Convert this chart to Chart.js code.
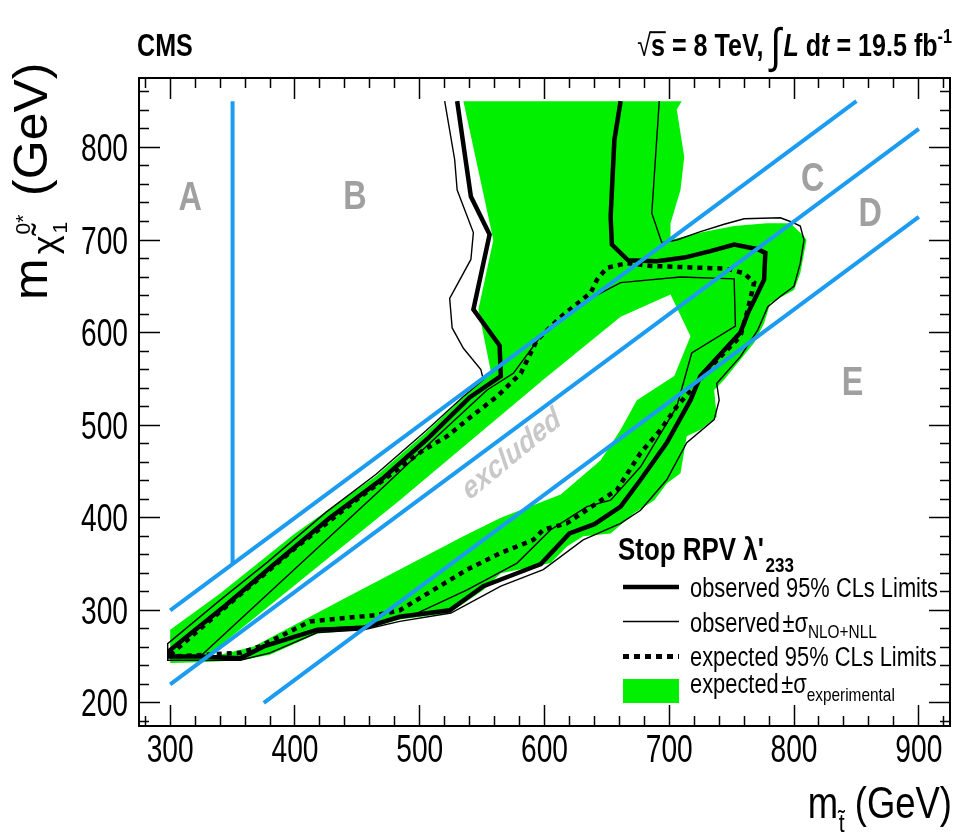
<!DOCTYPE html>
<html>
<head>
<meta charset="utf-8">
<script src="https://cdn.jsdelivr.net/npm/chart.js@4.4.1/dist/chart.umd.min.js"></script>
<style>
  html, body { margin: 0; padding: 0; background: #fff; }
  #wrap { width: 956px; height: 836px; }
</style>
</head>
<body>
<div id="wrap"><canvas id="chart" width="956" height="836"></canvas></div>
<script>
// axis ranges and tick labels
const xRange = [275, 925];
const yRange = [175, 875];
const xMajor = [300, 400, 500, 600, 700, 800, 900];
const yMajor = [200, 300, 400, 500, 600, 700, 800];
const minorStep = 20;

// observed 95% CLs limit (thick line), points as [m_stop, m_neutralino]
const observed = [[530,850],[541,747],[556,706],[543,625],[564,586],[565,553],[540,530],[506,485],[470,442],[428,400],[380,346],[345,306],[300,257],[300,250],[324,250],[356,248],[375,261],[418,279],[455,281],[484,293],[524,300],[551,326],[578,340],[597,350],[620,383],[640,393],[661,412],[677,441],[698,481],[717,527],[725,553],[757,600],[763,621],[771,643],[776,657],[777,686],[771,690],[752,695],[733,688],[712,681],[690,677],[667,678],[654,695],[653,725],[656,808],[661,850]];

// observed +1 sigma theory (outer thin line)
const observedUp = [[520,850],[528,787],[530,754],[543,708],[541,679],[524,637],[526,605],[535,583],[549,560],[551,549],[535,531],[505,494],[465,447],[425,406],[378,352],[340,311],[298,264],[298,246],[324,246],[356,246],[380,254],[418,276],[455,279],[484,288],[525,297],[565,326],[599,344],[631,376],[661,394],[677,408],[698,441],[714,481],[736,506],[740,527],[738,545],[757,574],[771,603],[779,628],[789,639],[800,650],[805,675],[808,700],[805,715],[797,720],[789,724],[760,723],[744,717],[725,709],[706,700],[694,697],[686,729],[689,790],[692,850]];

// observed -1 sigma theory (inner thin line)
const observedDown = [[324,250],[466,427],[514,488],[554,538],[575,556],[597,596],[640,639],[661,654],[709,660],[752,658],[753,607],[718,578],[706,520],[690,484],[677,455],[653,419],[634,412],[605,387],[578,351],[538,322],[498,297],[455,283],[418,280],[375,262],[356,250],[324,250]];

// expected 95% CLs limit (dotted)
const expected = [[300,252],[350,310],[400,367],[450,420],[480,450],[503,473],[522,488],[541,509],[562,531],[581,556],[594,592],[613,617],[637,643],[642,657],[650,670],[666,675],[685,672],[746,669],[760,664],[768,654],[763,625],[757,596],[736,567],[722,545],[706,520],[693,495],[677,470],[658,430],[640,414],[618,394],[599,387],[591,376],[565,362],[538,344],[511,322],[484,300],[466,295],[412,288],[372,261],[356,254],[300,250]];

// expected +-1 sigma experimental band: outer edge and the inner hole
const bandOuter = [[535,850],[710,850],[706,841],[712,790],[709,754],[701,718],[701,700],[725,708],[752,715],[778,718],[797,718],[808,704],[810,700],[805,664],[800,646],[781,632],[776,610],[768,589],[744,549],[736,538],[738,509],[725,495],[714,488],[709,448],[698,437],[688,419],[672,405],[653,383],[631,380],[618,369],[605,351],[591,347],[565,340],[551,322],[524,297],[484,290],[455,279],[418,275],[380,252],[357,246],[324,244],[300,243],[300,279],[340,318],[400,383],[465,445],[505,492],[535,530],[557,558],[547,625],[559,700],[535,850]];
const bandHole = [[330,251],[484,419],[599,549],[661,617],[701,641],[717,596],[704,553],[674,527],[661,495],[645,462],[613,425],[565,400],[535,380],[484,344],[440,313],[367,261],[340,252],[330,251]];

// kinematic region boundaries
const boundaries = [
  [[350,350],[350,850]],
  [[300,300],[850,850]],
  [[300,220],[900,820]],
  [[375,200],[900,725]]
];
const regionNames = ['A', 'B', 'C', 'D', 'E'];
const regionAt = [[316,747],[448,749],[815,768],[861,730],[847,548]];

const GREEN = '#00f000';
const BLUE = '#1c9cf0';
const FONT = '"Liberation Sans", Arial, Helvetica, sans-serif';
const SX = 0.81; // the figure is squeezed horizontally

function pts(arr) { return arr.map(p => ({x: p[0], y: p[1]})); }
function tickList(r) {
  const out = [];
  for (let v = Math.ceil(r[0] / minorStep) * minorStep; v <= r[1]; v += minorStep) out.push({value: v});
  return out;
}
function dashFor(startsInside) {
  return c => {
    if (!c.tick || c.tick.value % 100 === 0) return [];
    return startsInside ? [0, 11, 11, 100] : [11, 100];
  };
}

const line = (data, extra) => Object.assign({
  data: pts(data), showLine: true, fill: false, pointRadius: 0, tension: 0,
  borderColor: '#000', borderWidth: 1.5
}, extra);

const datasets = [
  line(bandOuter, {fill: 'shape', backgroundColor: GREEN, borderColor: 'transparent', borderWidth: 0, order: 10}),
  line(bandHole, {fill: 'shape', backgroundColor: '#fff', borderColor: 'transparent', borderWidth: 0, order: 9}),
  line(observedUp, {borderWidth: 1.4, order: 4}),
  line(observedDown, {borderWidth: 1.4, order: 4}),
  line(expected, {borderWidth: 4.5, borderDash: [5, 5], order: 3}),
  line(observed, {borderWidth: 4.5, order: 2})
];
boundaries.forEach(b => datasets.push(line(b, {borderColor: BLUE, borderWidth: 4, order: 1})));

function frameAxis(pos, range, size) {
  const horiz = pos === 'top' || pos === 'bottom';
  return {
    type: 'linear', position: pos, min: range[0], max: range[1],
    afterBuildTicks: s => { s.ticks = tickList(range); },
    afterFit: s => {
      if (horiz) s.height = size; else s.width = size;
      s.paddingLeft = s.paddingRight = s.paddingTop = s.paddingBottom = 0;
    },
    border: {display: true, color: '#000', width: 2},
    grid: {
      drawOnChartArea: false, drawTicks: true, tickLength: -21,
      tickColor: '#000', tickWidth: 1.5,
      tickBorderDash: dashFor(pos === 'left' || pos === 'top')
    },
    ticks: {display: false}
  };
}

function runFont(r) {
  return (r.i ? 'italic ' : '') + (r.b ? 'bold ' : '') + (r.s || 27) + 'px ' + FONT;
}
// draws runs of text (sub/superscripts via dy) squeezed horizontally
function drawRich(ctx, x, y, runs, o) {
  o = o || {};
  ctx.save();
  ctx.translate(x, y);
  ctx.scale(o.sx || SX, o.sy || 1);
  if (o.angle) ctx.rotate(o.angle);
  if (o.local) ctx.scale(o.local[0], o.local[1]);
  ctx.fillStyle = o.color || '#000';
  ctx.textBaseline = 'alphabetic';
  ctx.textAlign = 'left';
  let w = 0;
  runs.forEach(r => { ctx.font = runFont(r); w += (r.dx || 0) + (r.keep ? 0 : ctx.measureText(r.t).width); });
  let cx = o.align === 'right' ? -w : o.align === 'center' ? -w / 2 : 0;
  runs.forEach(r => {
    cx += r.dx || 0;
    ctx.font = runFont(r);
    const tw = ctx.measureText(r.t).width;
    ctx.fillText(r.t, cx, r.dy || 0);
    if (r.ol) ctx.fillRect(cx - 1, (r.dy || 0) - r.s * 0.8, tw + 2, 2);
    if (!r.keep) cx += tw;
  });
  ctx.restore();
}

const textPlugin = {
  id: 'texts',
  afterDraw(chart) {
    const ctx = chart.ctx;
    const sx = chart.scales.x, sy = chart.scales.y;
    const px = v => sx.getPixelForValue(v), py = v => sy.getPixelForValue(v);

    // tick labels at the scale positions
    xMajor.forEach(v => drawRich(ctx, px(v), 762, [{t: String(v), s: 38}], {align: 'center', sx: 0.74}));
    yMajor.forEach(v => drawRich(ctx, 128, py(v) + 13.5, [{t: String(v), s: 38}], {align: 'right', sx: 0.74}));

    // header
    drawRich(ctx, 137, 56, [{t: 'CMS', s: 31, b: true}]);
    drawRich(ctx, 952, 56, [
      {t: '√', s: 31}, {t: 's', s: 31, b: true, ol: true}, {t: ' = 8 TeV, ', s: 31, b: true},
      {t: '∫', s: 48, dy: 6}, {t: 'L', s: 31, b: true, i: true, dx: 3}, {t: ' d', s: 31, b: true},
      {t: 't', s: 31, b: true, i: true}, {t: ' = 19.5 fb', s: 31, b: true}, {t: '-1', s: 20, b: true, dy: -13}
    ], {align: 'right'});

    // axis titles
    drawRich(ctx, 952, 818, [
      {t: 'm', s: 45}, {t: 't̃', s: 26, dy: 14, dx: 1}, {t: ' (GeV)', s: 45}
    ], {align: 'right'});
    drawRich(ctx, 47, 300, [
      {t: 'm', s: 50}, {t: 'χ̃', s: 36, dy: 10, dx: 4}, {t: '0*', s: 21, dy: -18, dx: 1, keep: true}, {t: '1', s: 21, dy: 21, dx: 1},
      {t: ' (GeV)', s: 50, dx: 12}
    ], {sx: 0.95, angle: -Math.PI / 2});

    // region letters
    regionNames.forEach((n, i) => {
      drawRich(ctx, px(regionAt[i][0]), py(regionAt[i][1]) + 14, [{t: n, s: 40, b: true}], {align: 'center', color: '#a0a0a0'});
    });

    // excluded label
    ctx.save();
    ctx.translate(px(574), py(468));
    ctx.scale(SX, 1);
    ctx.rotate(-0.59);
    ctx.fillStyle = '#c8c8c8';
    ctx.font = 'italic bold 32px ' + FONT;
    ctx.textAlign = 'center';
    ctx.textBaseline = 'middle';
    ctx.fillText('excluded', 0, 0);
    ctx.restore();

    // legend
    drawRich(ctx, 618, 560, [{t: "Stop RPV λ'", s: 32, b: true}, {t: '233', s: 21, b: true, dy: 12, dx: 2}]);
    const lx0 = 623, lx1 = 679, tx = 690;
    ctx.save();
    ctx.strokeStyle = '#000';
    ctx.lineWidth = 4.5;
    ctx.beginPath(); ctx.moveTo(lx0, 587); ctx.lineTo(lx1, 587); ctx.stroke();
    ctx.lineWidth = 1.5;
    ctx.beginPath(); ctx.moveTo(lx0, 621.5); ctx.lineTo(lx1, 621.5); ctx.stroke();
    ctx.lineWidth = 5;
    ctx.setLineDash([6, 5]);
    ctx.beginPath(); ctx.moveTo(lx0, 656.5); ctx.lineTo(lx1, 656.5); ctx.stroke();
    ctx.setLineDash([]);
    ctx.fillStyle = GREEN;
    ctx.fillRect(lx0, 679, lx1 - lx0, 24);
    ctx.restore();
    drawRich(ctx, tx, 597, [{t: 'observed 95% CLs Limits', s: 27}]);
    drawRich(ctx, tx, 632, [{t: 'observed', s: 27}, {t: '±σ', s: 27, dx: 3}, {t: 'NLO+NLL', s: 19, dy: 6}]);
    drawRich(ctx, tx, 666, [{t: 'expected 95% CLs Limits', s: 27}]);
    drawRich(ctx, tx, 693, [{t: 'expected', s: 27}, {t: '±σ', s: 27, dx: 3}, {t: 'experimental', s: 19, dy: 8}]);
  }
};

new Chart(document.getElementById('chart').getContext('2d'), {
  type: 'scatter',
  data: {datasets},
  options: {
    responsive: false,
    animation: false,
    events: [],
    devicePixelRatio: 1,
    layout: {padding: 0},
    plugins: {legend: {display: false}, tooltip: {enabled: false}},
    scales: {
      x: frameAxis('bottom', xRange, 110),
      x2: frameAxis('top', xRange, 78),
      y: frameAxis('left', yRange, 139),
      y2: frameAxis('right', yRange, 6)
    }
  },
  plugins: [textPlugin]
});
</script>
</body>
</html>
